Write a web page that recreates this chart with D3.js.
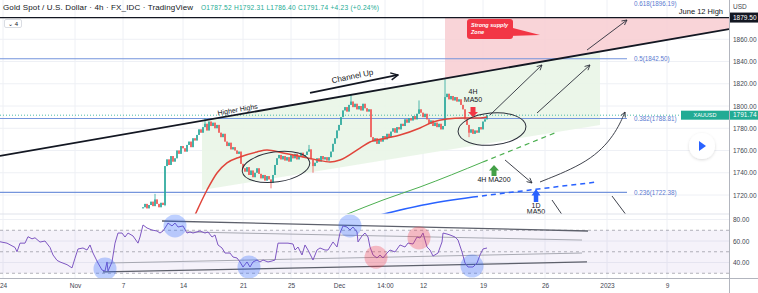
<!DOCTYPE html>
<html>
<head>
<meta charset="utf-8">
<script src="https://cdn.jsdelivr.net/npm/d3@7"></script>
<style>
  html, body { margin: 0; padding: 0; background: #fff; }
  svg { display: block; font-family: "Liberation Sans", Arial, sans-serif; }
</style>
</head>
<body>
<svg></svg>
<script>
// ---- data (bar index = 4h candle since Oct 24 00:00) ----
let tickBars = [0, 36, 60, 90, 120, 144, 168, 191, 210, 240, 271, 302, 332];
let tickLabels = ["24", "Nov", "7", "14", "21", "25", "Dec", "14:00", "12", "19", "26", "2023", "9"];
let priceTicks = [1720, 1740, 1760, 1780, 1800, 1820, 1840, 1860];
let rsiTicks = [40, 60, 80];

let firstBar = 70;
let firstOpen = 1708;
let closes = [
  1709, 1712, 1708, 1711, 1714, 1710, 1716, 1712, 1709, 1713, 1711,
  1746, 1752, 1747, 1755, 1750, 1753, 1760, 1757, 1764, 1762,
  1759, 1765, 1768, 1763, 1771, 1769, 1774, 1779, 1776, 1781,
  1784, 1778, 1786, 1782, 1785, 1780, 1783, 1776, 1772, 1775,
  1768, 1764, 1767, 1761, 1763, 1760, 1757, 1759, 1748, 1744,
  1741, 1745, 1738, 1742, 1736, 1740, 1744, 1739, 1735, 1738,
  1733, 1737, 1734, 1731, 1738, 1747, 1753, 1756, 1752, 1755,
  1751, 1754, 1750, 1756, 1753, 1757, 1752, 1755, 1758, 1754,
  1756, 1759, 1761, 1752, 1746, 1749, 1753, 1750, 1755, 1752,
  1754, 1751, 1754, 1759, 1766, 1771, 1778, 1783, 1790, 1796,
  1799, 1795, 1801, 1804, 1799, 1802, 1797, 1800, 1796, 1802,
  1798, 1795, 1797, 1772, 1768, 1771, 1766, 1770, 1768, 1773,
  1770, 1775, 1772, 1777, 1780, 1776, 1781, 1779, 1784, 1782,
  1788, 1785, 1789, 1787, 1791, 1788, 1793, 1797, 1794, 1790,
  1793, 1788, 1784, 1787, 1782, 1785, 1781, 1784, 1779, 1782,
  1808, 1811, 1806, 1809, 1805, 1808, 1804, 1806, 1801, 1797,
  1788, 1783, 1776, 1779, 1775, 1778, 1776, 1781, 1779, 1786,
  1788, 1791.74
];
// notable wicks: [bar, high, low]
let wicks = [[76, 1721, null], [81, null, 1710], [101, 1789, null], [134, null, 1726],
  [153, 1765, null], [155, null, 1740], [174, 1810, null], [208, 1805, null],
  [221, 1824, null], [233, null, 1772]];

let ma50_4h = [[96, 1702], [102, 1724.5], [107, 1739.8], [112, 1748.8], [118.5, 1754.2],
  [127, 1758.7], [132, 1760.4], [140, 1757.8], [150, 1754.2], [157, 1751.5], [163.5, 1749.7],
  [168.5, 1751.5], [178.5, 1762.2], [183.5, 1767.6], [192, 1771.2], [198.5, 1773.9],
  [208.5, 1780.2], [215, 1785.6], [222, 1788.3], [230, 1789.2], [238.5, 1789.2], [242, 1790.1]];
let ma200_4h = [[171, 1702], [190, 1715.5], [208.5, 1727.2], [240, 1749.7]];
let ma200_4hProj = [[240, 1749.7], [277, 1776.6]];
let ma50_1d = [[188.5, 1702], [210, 1711], [235, 1718.2]];
let ma50_1dProj = [[235, 1718.2], [263.5, 1724.5], [297, 1731.7]];

let fibRatios = ["0.236", "0.382", "0.5", "0.618"];
let fibValues = [1722.38, 1788.81, 1842.50, 1896.19];
let juneHigh = 1879.50;
let lastPrice = 1791.74;

let rsi = [[-1.5, 59.3], [2, 58], [6, 54], [7, 50], [8.5, 58], [11, 58], [12.5, 64], [14.5, 62],
  [16, 63], [18.5, 59], [21, 60], [23.5, 54], [25, 47], [27, 42], [28.5, 40.5], [32, 38],
  [34.5, 35], [36, 44], [37.5, 52.6], [40, 53.5], [42, 51.6], [43.5, 56.3], [45, 48.8],
  [47.5, 39.5], [49.5, 33], [51, 32], [52, 40.5], [52.5, 32], [54.5, 40.5], [56, 58],
  [57.5, 67.4], [59.5, 67.4], [61, 63.7], [62.5, 67.4], [65, 64.7], [67.5, 58], [68.5, 63.7],
  [70, 74.9], [72, 72.1], [74.5, 70.2], [77, 69.3], [78.5, 67.4], [80, 69.3], [82, 74.9],
  [82.5, 76.7], [84.5, 74], [86, 76.7], [87.5, 73], [90, 74], [92, 67.4], [93.5, 68.4],
  [95, 67.4], [98.5, 69.3], [101, 67.4], [102.5, 68.4], [104.5, 63.7], [106, 65.6],
  [107.5, 56.3], [109.5, 53.5], [111, 48.8], [113.5, 48.8], [115, 45.1], [117, 44.2],
  [118.5, 40.5], [120, 35.8], [122, 40.5], [123.5, 35.8], [125, 40.5], [127, 42.3],
  [128.5, 40.5], [130, 42.3], [132.5, 40.5], [134.5, 41.4], [136, 42.3], [137.5, 58],
  [140, 58], [142.5, 58], [145, 57.2], [146, 51.6], [147.5, 54.4], [149.5, 47], [151, 56.3],
  [152.5, 51.6], [154.5, 44.2], [155, 42.3], [157, 51.6], [158.5, 53.5], [161, 51.6],
  [162.5, 51.6], [165, 59.1], [167, 54.4], [168.5, 67.4], [170, 74], [172, 73], [173.5, 70.2],
  [175, 73], [177, 68.4], [177.5, 59.1], [179.5, 64.7], [181, 67.4], [182.5, 63.7],
  [183.5, 54.4], [185, 47], [187, 44.2], [188.5, 47], [190, 44.2], [192, 48.8], [193.5, 51.6],
  [196, 49.8], [198.5, 56.3], [201, 54.4], [202.5, 58.1], [205, 57.2], [207, 63.7],
  [208.5, 62.8], [210, 67.4], [212, 54.4], [213.5, 51.6], [215, 46], [217.5, 48.8],
  [219.5, 59.1], [220, 67.4], [222, 66.5], [223.5, 65.6], [226, 63.7], [227.5, 60.9],
  [229.5, 49.8], [231, 39.5], [232.5, 35.8], [235, 35.8], [237, 39.5], [238.5, 47],
  [240, 52.6], [242, 53.5]];
let rsiBlueMarks = [[51, 34], [86, 74], [123, 35.8], [173.5, 74], [234.5, 36.7]];
let rsiPinkMarks = [[186.5, 45], [208, 62.8]];
let rsiLines = [[[79.5, 78.6], [292.5, 69.3]], [[50, 31.2], [292, 40.5]]];
let rsiThinLines = [[[52, 39.5], [289.5, 48.8]], [[92, 68.4], [289.5, 60.9]]];

// drawings (bar, price)
let trendTop = [[-1.5, 1755.1], [363, 1869.2]];
let channelLow = [[99.5, 1724.5], [298.5, 1782.9]];
let channelArrow = [[153.5, 1811.7], [197.5, 1827.9]];
let supplyLeft = 221;
let ellipses = [{bar: 136.5, price: 1745.2, rb: 17, rp: 13.5, rot: -8},
                {bar: 244.5, price: 1779.3, rb: 17, rp: 14.4, rot: -5}];
let arrows = [[[243.5, 1791.9], [269.5, 1836.9]], [[267, 1793.7], [293.5, 1836.9]],
  [[292, 1850.3], [312, 1877.3]], [[251, 1751.5], [264.5, 1730.8]]];
let plainLines = [[[274.5, 1715.5], [280, 1701.1]], [[304.5, 1719.1], [312, 1701.1]]];
let curveArrow = [[268.5, 1731.7], [293.5, 1749.7], [306, 1773.9], [311, 1794.6]];

// ---- layout ----
let W = 758, H = 293;
let right = 729, mainBottom = 214, rsiBottom = 278;

let svg = d3.select("svg").attr("width", W).attr("height", H);

let x = d3.scaleLinear().domain([0, 363]).range([3, right]);
let y = d3.scaleLinear().domain([1720, 1860]).range([195, 39.25]);
let yR = d3.scaleLinear().domain([40, 80]).range([262.5, 219.5]);

let defs = svg.append("defs");
defs.append("clipPath").attr("id", "mainClip").append("rect")
  .attr("x", 0).attr("y", 0).attr("width", right).attr("height", mainBottom);
defs.append("clipPath").attr("id", "rsiClip").append("rect")
  .attr("x", 0).attr("y", mainBottom).attr("width", right).attr("height", rsiBottom - mainBottom);
defs.append("marker").attr("id", "ah").attr("viewBox", "0 0 10 10")
  .attr("refX", 9).attr("refY", 5).attr("markerWidth", 7).attr("markerHeight", 7)
  .attr("orient", "auto")
  .append("path").attr("d", "M1,1 L9,5 L1,9").attr("fill", "none")
  .attr("stroke", "#2a2e39").attr("stroke-width", 1.3);
defs.append("marker").attr("id", "ahBig").attr("viewBox", "0 0 10 10")
  .attr("refX", 9).attr("refY", 5).attr("markerWidth", 5).attr("markerHeight", 5)
  .attr("orient", "auto")
  .append("path").attr("d", "M1,1 L9,5 L1,9").attr("fill", "none")
  .attr("stroke", "#131722").attr("stroke-width", 1.6);
let shadow = defs.append("filter").attr("id", "shadow")
  .attr("x", "-50%").attr("y", "-50%").attr("width", "200%").attr("height", "200%");
shadow.append("feDropShadow").attr("dx", 0).attr("dy", 1).attr("stdDeviation", 1.5)
  .attr("flood-color", "#000").attr("flood-opacity", 0.15);

// ---- grid ----
let grid = svg.append("g").attr("stroke", "#eef0f5").attr("stroke-width", 1);
grid.selectAll(".hg").data(priceTicks).enter().append("line")
  .attr("x1", 0).attr("x2", right).attr("y1", d => y(d)).attr("y2", d => y(d));
grid.selectAll(".rg").data(rsiTicks).enter().append("line")
  .attr("x1", 0).attr("x2", right).attr("y1", d => yR(d)).attr("y2", d => yR(d));
grid.selectAll(".vg").data(tickBars).enter().append("line")
  .attr("x1", d => x(d)).attr("x2", d => x(d)).attr("y1", 0).attr("y2", rsiBottom);

// ---- main pane ----
let main = svg.append("g").attr("clip-path", "url(#mainClip)");
let trendAt = b => {
  let t = (b - trendTop[0][0]) / (trendTop[1][0] - trendTop[0][0]);
  return trendTop[0][1] + t * (trendTop[1][1] - trendTop[0][1]);
};

// supply zone (pink) above trendline
main.append("path")
  .attr("d", d3.line()([[x(supplyLeft), y(juneHigh)], [right, y(juneHigh)],
    [right, y(trendAt(363))], [x(supplyLeft), y(trendAt(supplyLeft))]]) + "Z")
  .attr("fill", "#f8cdd1").attr("opacity", 0.85);

// channel (green)
main.append("path")
  .attr("d", d3.line()([[x(channelLow[0][0]), y(trendAt(channelLow[0][0]))],
    [x(channelLow[1][0]), y(trendAt(channelLow[1][0]))],
    [x(channelLow[1][0]), y(channelLow[1][1])],
    [x(channelLow[0][0]), y(channelLow[0][1])]]) + "Z")
  .attr("fill", "#e9f5e7").attr("opacity", 0.9);

// fib levels
let fibG = main.append("g");
fibValues.forEach((v, i) => {
  fibG.append("line").attr("x1", 0).attr("x2", x(312)).attr("y1", y(v)).attr("y2", y(v))
    .attr("stroke", "#7595dc").attr("stroke-width", 1.1);
  // top level sits above the pane: keep its label just inside the top edge
  let ly = Math.max(y(v) + 2.3, 6);
  fibG.append("text").attr("x", x(315.5)).attr("y", ly)
    .attr("font-size", 6.3).attr("fill", "#5b7ad0")
    .text(fibRatios[i] + "(" + v.toFixed(2) + ")");
});

// last price dotted line
main.append("line").attr("x1", 0).attr("x2", right).attr("y1", y(lastPrice)).attr("y2", y(lastPrice))
  .attr("stroke", "#22ab94").attr("stroke-width", 0.8).attr("stroke-dasharray", "1,2");

// June 12 high
main.append("line").attr("x1", 0).attr("x2", right).attr("y1", y(juneHigh)).attr("y2", y(juneHigh))
  .attr("stroke", "#131722").attr("stroke-width", 1.2);
main.append("text").attr("x", 723).attr("y", y(juneHigh) - 4).attr("text-anchor", "end")
  .attr("font-size", 7.5).attr("fill", "#131722").text("June 12 High");

// candles
let candles = closes.map((c, i) => {
  let o = i === 0 ? firstOpen : closes[i - 1];
  let bar = firstBar + i;
  let w = wicks.find(k => k[0] === bar);
  let hi = Math.max(o, c, w && w[1] ? w[1] : 0);
  let lo = Math.min(o, c, w && w[2] ? w[2] : 1e9);
  return {bar: bar, o: o, c: c, hi: hi, lo: lo};
});
let cg = main.append("g");
cg.selectAll(".wick").data(candles).enter().append("line")
  .attr("x1", d => x(d.bar)).attr("x2", d => x(d.bar))
  .attr("y1", d => y(d.hi)).attr("y2", d => y(d.lo))
  .attr("stroke", d => d.c >= d.o ? "#26a69a" : "#ef5350").attr("stroke-width", 0.8);
cg.selectAll(".body").data(candles).enter().append("rect")
  .attr("x", d => x(d.bar) - 0.75).attr("width", 1.5)
  .attr("y", d => y(Math.max(d.o, d.c)))
  .attr("height", d => Math.max(1, Math.abs(y(d.o) - y(d.c))))
  .attr("fill", d => d.c >= d.o ? "#26a69a" : "#ef5350");

// moving averages
let pline = d3.line().x(d => x(d[0])).y(d => y(d[1]));
let mline = d3.line().x(d => x(d[0])).y(d => y(d[1])).curve(d3.curveMonotoneX);
main.append("path").attr("d", mline(ma50_4h)).attr("fill", "none")
  .attr("stroke", "#e0453b").attr("stroke-width", 1.5);
main.append("path").attr("d", mline(ma200_4h)).attr("fill", "none")
  .attr("stroke", "#4caf50").attr("stroke-width", 1);
main.append("path").attr("d", pline(ma200_4hProj)).attr("fill", "none")
  .attr("stroke", "#4caf50").attr("stroke-width", 1.2).attr("stroke-dasharray", "5,4");
main.append("path").attr("d", mline(ma50_1d)).attr("fill", "none")
  .attr("stroke", "#2962ff").attr("stroke-width", 1.5);
main.append("path").attr("d", mline(ma50_1dProj)).attr("fill", "none")
  .attr("stroke", "#2962ff").attr("stroke-width", 1.5).attr("stroke-dasharray", "5,4");

// upper trendline
main.append("path").attr("d", pline(trendTop)).attr("stroke", "#131722").attr("stroke-width", 1.8);
let trendAngle = Math.atan2(y(trendTop[1][1]) - y(trendTop[0][1]), x(trendTop[1][0]) - x(trendTop[0][0])) * 180 / Math.PI;
main.append("text").attr("font-size", 7).attr("fill", "#131722").attr("text-anchor", "middle")
  .attr("transform", "translate(" + x(117.5) + "," + (y(trendAt(117.5)) - 2.5) + ") rotate(" + trendAngle + ")")
  .text("Higher Highs");

// Channel Up arrow
main.append("path").attr("d", pline(channelArrow)).attr("stroke", "#131722")
  .attr("stroke-width", 1.8).attr("fill", "none").attr("marker-end", "url(#ahBig)");
let caAngle = Math.atan2(y(channelArrow[1][1]) - y(channelArrow[0][1]), x(channelArrow[1][0]) - x(channelArrow[0][0])) * 180 / Math.PI;
main.append("text").attr("font-size", 8).attr("fill", "#131722").attr("text-anchor", "middle")
  .attr("transform", "translate(" + x(175) + "," + y(1824.3) + ") rotate(" + caAngle + ")")
  .text("Channel Up");

// ellipses
main.selectAll(".ell").data(ellipses).enter().append("ellipse")
  .attr("cx", d => x(d.bar)).attr("cy", d => y(d.price))
  .attr("rx", d => x(d.rb) - x(0)).attr("ry", d => y(0) - y(d.rp))
  .attr("transform", d => "rotate(" + d.rot + "," + x(d.bar) + "," + y(d.price) + ")")
  .attr("fill", "none").attr("stroke", "#2a2e39").attr("stroke-width", 1);

// arrows
main.selectAll(".arr").data(arrows).enter().append("path")
  .attr("d", d => pline(d)).attr("fill", "none")
  .attr("stroke", "#2a2e39").attr("stroke-width", 0.9).attr("marker-end", "url(#ah)");
main.selectAll(".pl").data(plainLines).enter().append("path")
  .attr("d", d => pline(d)).attr("fill", "none")
  .attr("stroke", "#2a2e39").attr("stroke-width", 0.9);
main.append("path").attr("d", d3.line().x(d => x(d[0])).y(d => y(d[1])).curve(d3.curveBasis)(curveArrow))
  .attr("fill", "none").attr("stroke", "#2a2e39").attr("stroke-width", 0.9).attr("marker-end", "url(#ah)");

// supply zone callout
let cx0 = x(232), cy0 = y(1878.2);
main.append("path")
  .attr("d", "M" + (cx0 + 42) + "," + (cy0 + 8) + " L" + (cx0 + 73) + "," + (cy0 + 16) + " L" + (cx0 + 42) + "," + (cy0 + 17) + "Z")
  .attr("fill", "#f23645");
main.append("rect").attr("x", cx0).attr("y", cy0).attr("width", 46).attr("height", 20).attr("rx", 3)
  .attr("fill", "#f23645");
main.append("text").attr("x", cx0 + 4).attr("y", cy0 + 8).attr("font-size", 5.5)
  .attr("font-style", "italic").attr("font-weight", "bold").attr("fill", "#fff").text("Strong supply");
main.append("text").attr("x", cx0 + 4).attr("y", cy0 + 15).attr("font-size", 5.5)
  .attr("font-style", "italic").attr("font-weight", "bold").attr("fill", "#fff").text("Zone");

// block arrows + labels
function blockArrow(bx, tipY, w, h, up, color) {
  let s = up ? 1 : -1;
  let hw = w / 2, sh = w * 0.25, head = h * 0.5;
  let pts = [[0, 0], [hw, s * head], [sh, s * head], [sh, s * h], [-sh, s * h], [-sh, s * head], [-hw, s * head]]
    .map(p => [bx + p[0], tipY + p[1]]);
  main.append("path").attr("d", d3.line()(pts) + "Z").attr("fill", color);
}
blockArrow(x(235), y(1790.1), 10, 10, false, "#f23645");
main.append("text").attr("x", x(235)).attr("y", y(1810.8)).attr("text-anchor", "middle")
  .attr("font-size", 7).attr("fill", "#131722").text("4H");
main.append("text").attr("x", x(235)).attr("y", y(1803.6)).attr("text-anchor", "middle")
  .attr("font-size", 7).attr("fill", "#131722").text("MA50");
blockArrow(x(245.5), y(1747), 10, 11, true, "#43a047");
main.append("text").attr("x", x(245.5)).attr("y", y(1731.7)).attr("text-anchor", "middle")
  .attr("font-size", 7).attr("fill", "#131722").text("4H MA200");
blockArrow(x(266.5), y(1725.4), 9, 13, true, "#2962ff");
main.append("text").attr("x", x(266.5)).attr("y", y(1708.3)).attr("text-anchor", "middle")
  .attr("font-size", 7).attr("fill", "#131722").text("1D");
main.append("text").attr("x", x(266.5)).attr("y", y(1702.6)).attr("text-anchor", "middle")
  .attr("font-size", 7).attr("fill", "#131722").text("MA50");

// ---- RSI pane ----
let rsiG = svg.append("g").attr("clip-path", "url(#rsiClip)");
rsiG.append("rect").attr("x", 0).attr("width", right).attr("y", yR(70)).attr("height", yR(30) - yR(70))
  .attr("fill", "#7e57c2").attr("opacity", 0.08);
rsiG.selectAll(".lvl").data([70, 50, 30]).enter().append("line")
  .attr("x1", 0).attr("x2", right).attr("y1", d => yR(d)).attr("y2", d => yR(d))
  .attr("stroke", "#787b86").attr("stroke-width", 0.8).attr("stroke-dasharray", "3,3").attr("opacity", 0.7);
let rline = d3.line().x(d => x(d[0])).y(d => yR(d[1]));
rsiG.selectAll(".rt").data(rsiLines).enter().append("path").attr("d", d => rline(d))
  .attr("stroke", "#5d606b").attr("stroke-width", 1.3);
rsiG.selectAll(".rtt").data(rsiThinLines).enter().append("path").attr("d", d => rline(d))
  .attr("stroke", "#9598a1").attr("stroke-width", 0.8);
svg.selectAll(".bm").data(rsiBlueMarks).enter().append("circle")
  .attr("cx", d => x(d[0])).attr("cy", d => yR(d[1])).attr("r", 11.5)
  .attr("fill", "#2962ff").attr("opacity", 0.3);
svg.selectAll(".pm").data(rsiPinkMarks).enter().append("circle")
  .attr("cx", d => x(d[0])).attr("cy", d => yR(d[1])).attr("r", 11.5)
  .attr("fill", "#f23645").attr("opacity", 0.3);
rsiG.append("path").attr("d", rline(rsi)).attr("fill", "none")
  .attr("stroke", "#7e57c2").attr("stroke-width", 1);

// pane separators
svg.append("line").attr("x1", 0).attr("x2", W).attr("y1", mainBottom).attr("y2", mainBottom)
  .attr("stroke", "#e0e3eb").attr("stroke-width", 1);

// ---- right axis ----
svg.append("rect").attr("x", right).attr("y", 0).attr("width", W - right).attr("height", H).attr("fill", "#fff");
svg.append("rect").attr("x", 0).attr("y", rsiBottom).attr("width", W).attr("height", H - rsiBottom).attr("fill", "#fff");
svg.append("line").attr("x1", right + 0.5).attr("x2", right + 0.5).attr("y1", 0).attr("y2", H)
  .attr("stroke", "#b2b5be").attr("stroke-width", 1);
svg.append("line").attr("x1", 0).attr("x2", W).attr("y1", rsiBottom + 0.5).attr("y2", rsiBottom + 0.5)
  .attr("stroke", "#b2b5be").attr("stroke-width", 1);

let yAxis = d3.axisRight(y).tickValues(priceTicks).tickFormat(d3.format(".2f")).tickSize(0).tickPadding(4);
svg.append("g").attr("transform", "translate(" + right + ",0)").call(yAxis)
  .call(g => g.select(".domain").remove())
  .selectAll("text").attr("font-size", 6.5).attr("fill", "#434651").attr("font-family", "Liberation Sans, Arial");
let rAxis = d3.axisRight(yR).tickValues(rsiTicks).tickFormat(d3.format(".2f")).tickSize(0).tickPadding(4);
svg.append("g").attr("transform", "translate(" + right + ",0)").call(rAxis)
  .call(g => g.select(".domain").remove())
  .selectAll("text").attr("font-size", 6.5).attr("fill", "#434651").attr("font-family", "Liberation Sans, Arial");
svg.append("text").attr("x", right + 4).attr("y", 9).attr("font-size", 6.5).attr("fill", "#434651").text("USD");

// June high axis label
svg.append("rect").attr("x", right + 1).attr("y", y(juneHigh) - 5).attr("width", W - right - 1).attr("height", 10)
  .attr("fill", "#131722");
svg.append("text").attr("x", right + 4).attr("y", y(juneHigh) + 2.5).attr("font-size", 6.5)
  .attr("fill", "#fff").text(juneHigh.toFixed(2));

// last price labels
svg.append("rect").attr("x", 681).attr("y", y(lastPrice) - 4.5).attr("width", right - 681).attr("height", 9)
  .attr("fill", "#22ab94");
svg.append("text").attr("x", 705).attr("y", y(lastPrice) + 2.2).attr("text-anchor", "middle")
  .attr("font-size", 5.5).attr("fill", "#fff").text("XAUUSD");
svg.append("rect").attr("x", right + 1).attr("y", y(lastPrice) - 4.5).attr("width", W - right - 1).attr("height", 9)
  .attr("fill", "#22ab94");
svg.append("text").attr("x", right + 4).attr("y", y(lastPrice) + 2.3).attr("font-size", 6.5)
  .attr("fill", "#fff").text(lastPrice.toFixed(2));

// ---- time axis ----
let xAxis = d3.axisBottom(x).tickValues(tickBars).tickFormat((d, i) => tickLabels[i]).tickSize(0).tickPadding(5);
svg.append("g").attr("transform", "translate(0," + rsiBottom + ")").call(xAxis)
  .call(g => g.select(".domain").remove())
  .selectAll("text").attr("font-size", 6.5).attr("fill", "#434651").attr("font-family", "Liberation Sans, Arial");

// ---- play button ----
svg.append("circle").attr("cx", 702).attr("cy", 146).attr("r", 13).attr("fill", "#fff").attr("filter", "url(#shadow)");
svg.append("path").attr("d", "M699,141 L706,146 L699,151Z").attr("fill", "#2962ff");

// ---- header ----
svg.append("text").attr("x", 3).attr("y", 10).attr("font-size", 8).attr("fill", "#131722")
  .attr("textLength", 190).attr("lengthAdjust", "spacing")
  .text("Gold Spot / U.S. Dollar · 4h · FX_IDC · TradingView");
svg.append("text").attr("x", 201).attr("y", 10).attr("font-size", 6.6).attr("fill", "#22ab94")
  .attr("textLength", 178).attr("lengthAdjust", "spacing")
  .text("O1787.52  H1792.31  L1786.40  C1791.74  +4.23 (+0.24%)");
svg.append("rect").attr("x", 4.5).attr("y", 19.5).attr("width", 17).attr("height", 8).attr("rx", 1.5)
  .attr("fill", "#fff").attr("stroke", "#d1d4dc").attr("stroke-width", 0.8);
svg.append("text").attr("x", 13).attr("y", 26).attr("text-anchor", "middle").attr("font-size", 6)
  .attr("fill", "#131722").text("⌄ 4");
</script>
</body>
</html>
